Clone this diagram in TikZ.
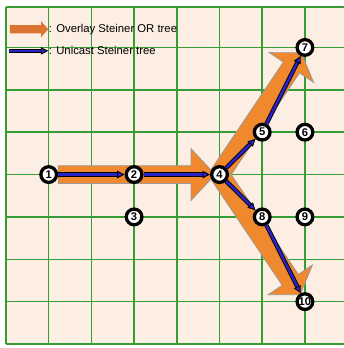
\documentclass[tikz,border=0pt]{standalone}
\usepackage{fontspec}
\setsansfont{Liberation Sans}
\usetikzlibrary{arrows.meta,positioning,calc,backgrounds}
\definecolor{paper}{HTML}{FCEEE2}
\definecolor{gridgreen}{HTML}{369D36}
\definecolor{ortree}{HTML}{F0892D}
\definecolor{orlegend}{HTML}{DA7430}
\definecolor{unicast}{HTML}{2B22C6}
\definecolor{rim}{HTML}{9A9A9A}

% style, tail, tip, half body, half head, head length
\newcommand{\fatarrow}[6]{%
  \coordinate (nk) at ($(#3)!#6!(#2)$);
  \filldraw[#1] ($(#2)!#4!90:(#3)$) -- ($(nk)!#4!90:(#3)$) -- ($(nk)!#5!90:(#3)$) -- (#3)
    -- ($(nk)!#5!-90:(#3)$) -- ($(nk)!#4!-90:(#3)$) -- ($(#2)!#4!-90:(#3)$) -- cycle;
}

\begin{document}
\begin{tikzpicture}[x=1.008cm,y=1cm,>=Latex,
  stn/.style={circle,draw=black,fill=white,line width=2.2pt,inner sep=0pt,minimum size=0.37cm,
    font=\sffamily\bfseries\fontsize{7.5}{7.5}\selectfont},
  uni/.style={draw=black,double=unicast,double distance=1.7pt,line width=0.6pt,
    -{Triangle[length=5pt,width=5pt,fill=unicast]}},
  ovl/.style={fill=ortree,draw=rim,line width=0.5pt},
  lgd/.style={fill=orlegend,draw=none},
  lbl/.style={font=\sffamily\fontsize{7.6}{8}\selectfont,inner sep=0pt,anchor=west}]
  \useasboundingbox (-0.14,-0.094) rectangle (7.915,8.12);

  % receivers
  \node[stn] (n1) at (1,4) {1};
  \node[stn] (n2) at (3,4) {2};
  \node[stn] (n3) at (3,3) {3};
  \node[stn] (n4) at (5,4) {4};
  \node[stn] (n5) at (6,5) {5};
  \node[stn] (n6) at (7,5) {6};
  \node[stn] (n7) at (7,7) {7};
  \node[stn] (n8) at (6,3) {8};
  \node[stn] (n9) at (7,3) {9};
  \node[stn] (n10) at (7,1) {10};

  \begin{scope}[on background layer]
    \fill[paper] (0,0) rectangle (8,7.96);
    \foreach \k in {0,...,8} {
      \draw[gridgreen,line width=1pt] (\k,0) -- (\k,7.96);
    }
    \foreach \k in {0,...,7} {
      \draw[gridgreen,line width=1pt] (0,\k) -- (8,\k);
    }
    \draw[gridgreen,line width=1pt] (0,7.96) -- (8,7.96);
    % overlay tree
    \coordinate (t4) at ($(n4)!0.1cm!(n1)$);
    \coordinate (t7) at ($(n7)!0.15cm!(n4)$);
    \coordinate (t10) at ($(n10)!0.2cm!(n4)$);
    \fatarrow{ovl}{n4}{t7}{0.23cm}{0.63cm}{0.42cm}
    \fatarrow{ovl}{n4}{t10}{0.23cm}{0.63cm}{0.42cm}
    \fatarrow{ovl}{n1.east}{t4}{0.21cm}{0.61cm}{0.57cm}
    % legend
    \coordinate (lo1) at (0.09,7.43);
    \coordinate (lo2) at (0.99,7.43);
    \fatarrow{lgd}{lo1}{lo2}{0.095cm}{0.19cm}{0.17cm}
  \end{scope}

  % unicast tree
  \draw[uni] (n1) -- (n2);
  \draw[uni] (n2) -- (n4);
  \draw[uni] (n4) -- (n5);
  \draw[uni] (n5) -- (n7);
  \draw[uni] (n4) -- (n8);
  \draw[uni] (n8) -- (n10);

  \coordinate (lu1) at (0.07,6.92);
  \coordinate (lu2) at (0.99,6.92);
  \draw[uni] (lu1) -- (lu2);
  \node[lbl] (tov) at (1.0,7.43) {: Overlay Steiner OR tree};
  \node[lbl] (tuc) at (1.0,6.92) {: Unicast Steiner tree};
\end{tikzpicture}
\end{document}
